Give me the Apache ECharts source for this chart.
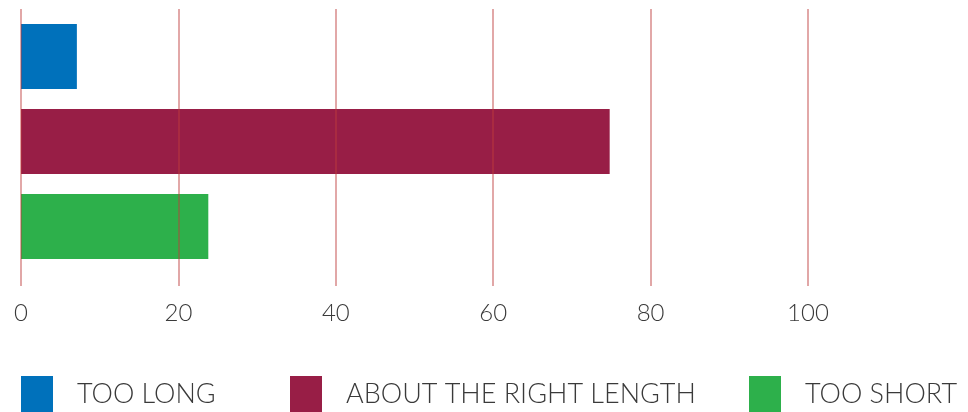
<!DOCTYPE html>
<html>
<head>
<meta charset="utf-8">
<script src="https://cdn.jsdelivr.net/npm/echarts@6/dist/echarts.min.js"></script>
<style>
html,body{margin:0;padding:0;background:#fff;}
#chart{width:968px;height:412px;}
</style>
</head>
<body>
<div id="chart"></div>
<script>
const categories = ['TOO LONG', 'ABOUT THE RIGHT LENGTH', 'TOO SHORT'];
const values = [7.1, 74.8, 23.8];
const colors = ['#0071bb', '#981e46', '#2db04b'];
const tickValues = [0, 20, 40, 60, 80, 100];

const gridColor = 'rgba(190,60,60,0.6)';
const chart = echarts.init(document.getElementById('chart'));

const series = categories.map((name, i) => ({
  name: name,
  type: 'bar',
  stack: 'all',
  barCategoryGap: '23.5%',
  itemStyle: { color: colors[i] },
  data: categories.map((c, j) => (j === i ? values[i] : '-'))
}));

const legendX = [21, 290, 749];
const legends = categories.map((name, i) => ({
  data: [name],
  left: legendX[i],
  top: 376,
  itemWidth: 32,
  itemHeight: 36,
  itemGap: 0,
  padding: 0,
  icon: 'rect',
  selectedMode: false,
  textStyle: { fontFamily: 'Lato', fontWeight: 300, fontSize: 27, color: '#3a3a3a', padding: [0, 0, 0, 19] }
}));

chart.setOption({
  animation: false,
  grid: { left: 21, top: 14, width: 944.4, height: 255, containLabel: false },
  legend: legends,
  xAxis: [{
    type: 'value', min: 0, max: 120, interval: 20, position: 'bottom', z: 10,
    axisLine: { show: false },
    axisTick: { show: true, length: 17, customValues: tickValues, lineStyle: { color: gridColor, width: 1.5 } },
    axisLabel: { margin: 32, fontFamily: 'Lato', fontWeight: 300, fontSize: 24, color: '#3a3a3a', customValues: tickValues },
    splitLine: { show: true, lineStyle: { color: gridColor, width: 1.5 } }
  }, {
    type: 'value', min: 0, max: 120, interval: 20, position: 'top', z: 10,
    axisLine: { show: false },
    axisTick: { show: true, length: 5, customValues: tickValues, lineStyle: { color: gridColor, width: 1.5 } },
    axisLabel: { show: false },
    splitLine: { show: false }
  }],
  yAxis: {
    type: 'category', data: categories, inverse: true,
    axisLine: { show: false }, axisTick: { show: false }, axisLabel: { show: false }, splitLine: { show: false }
  },
  series: series
});
</script>
</body>
</html>
